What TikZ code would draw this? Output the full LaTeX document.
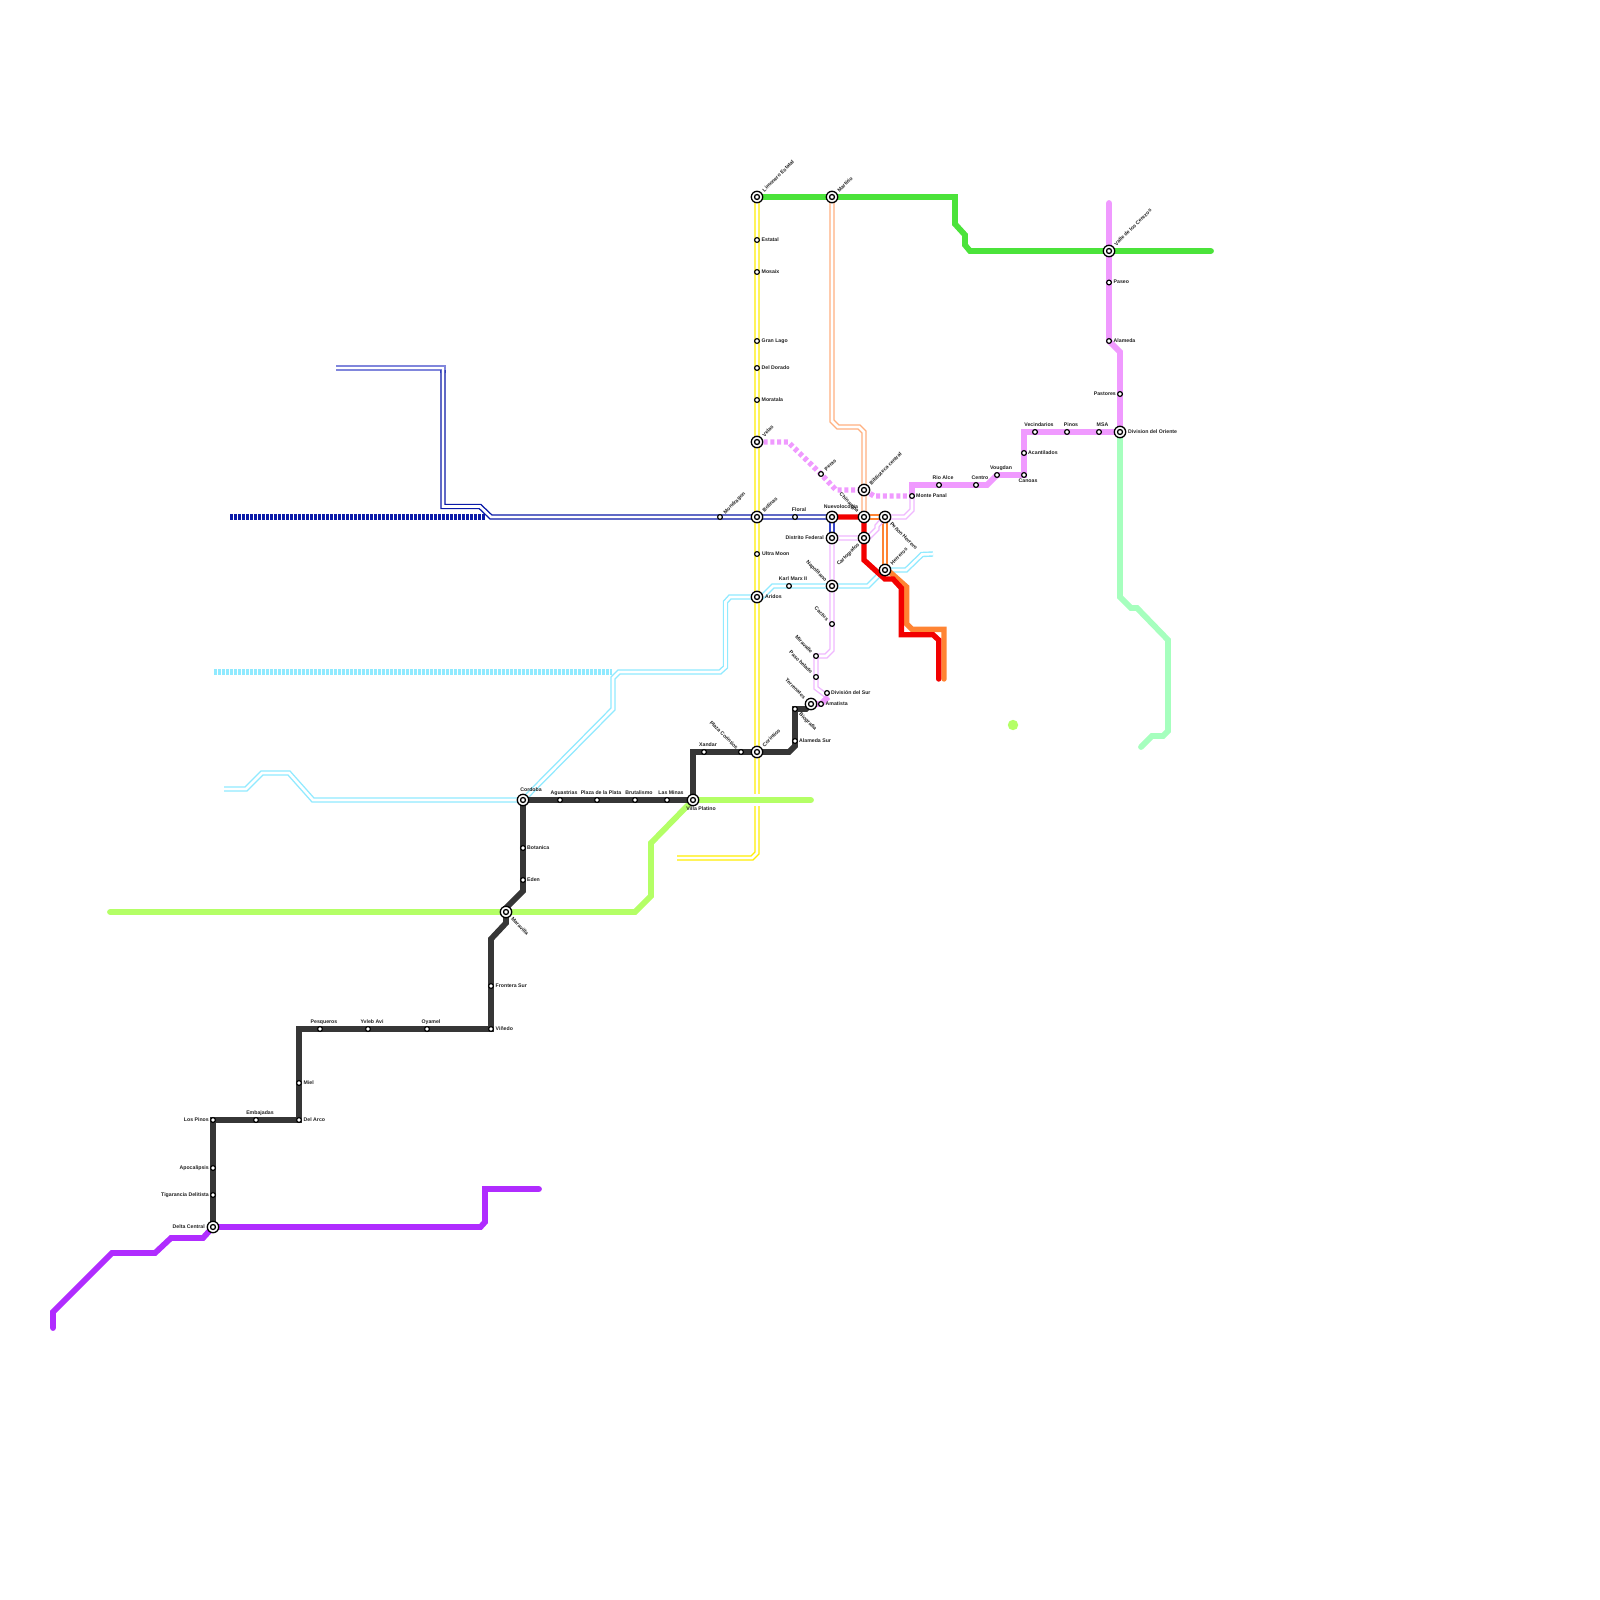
\documentclass[tikz,border=0pt]{standalone}
\usepackage{fontspec}
\setmainfont{Liberation Sans}
\usetikzlibrary{backgrounds}
\definecolor{cblack}{HTML}{363636}
\definecolor{cpurple}{HTML}{B02CFF}
\definecolor{cpink}{HTML}{F09AFF}
\definecolor{clight}{HTML}{F0B8FF}
\definecolor{cmint}{HTML}{A6FFBE}
\definecolor{cgreen}{HTML}{4BE33A}
\definecolor{clime}{HTML}{B4FF66}
\definecolor{corange}{HTML}{FF8433}
\definecolor{cpeach}{HTML}{FFB080}
\definecolor{cred}{HTML}{F20000}
\definecolor{cyell}{HTML}{FFEE00}
\definecolor{ccyan}{HTML}{90EAFF}
\definecolor{cblue}{HTML}{0A1AA8}
\definecolor{cbluemid}{HTML}{3A46C8}
\definecolor{cbluepale}{HTML}{8086DC}
\definecolor{ctext}{HTML}{222222}
\tikzset{
  stn/.style={circle,draw=black,fill=white,line width=1.2pt,minimum size=4.8pt,inner sep=0pt},
  xchg/.style={circle,draw=black,fill=white,line width=1.3pt,minimum size=11.4pt,inner sep=0pt,
    path picture={\draw[black,line width=1.3pt] (path picture bounding box.center) circle (2.5pt);}},
  lbl/.style={text=ctext,inner sep=0pt,text height=5pt,text depth=1.1pt,font=\bfseries\fontsize{5.2}{6}\selectfont},
  lr/.style={lbl,anchor=west},
  ll/.style={lbl,anchor=east},
  lc/.style={lbl,anchor=center},
  lup/.style={lbl,anchor=west,rotate=45},
  ldn/.style={lbl,anchor=west,rotate=-45},
  lul/.style={lbl,anchor=east,rotate=-45},
  ldl/.style={lbl,anchor=east,rotate=45},
  thick line/.style={draw=#1,line width=5.8pt,line cap=round,line join=miter},
  dbl/.style={draw=#1,line width=1.4pt,double=white,double distance=2.6pt,line join=miter},
  dots/.style={draw=#1,line width=5.4pt,dash pattern=on 2.6pt off 1.4pt},
  dotsw/.style={draw=#1,line width=5.4pt,dash pattern=on 4pt off 2.7pt},
}
\begin{document}
\begin{tikzpicture}[x=1pt,y=-1pt]
\useasboundingbox (0,0) rectangle (1600,1600);
% ---- stations
\node[xchg] (lim) at (757,197) {};
\node[xchg] (mar) at (832,197) {};
\node[stn] (est) at (757,240) {};
\node[stn] (mos) at (757,272) {};
\node[stn] (gra) at (757,341) {};
\node[stn] (dor) at (757,368) {};
\node[stn] (mor) at (757,400) {};
\node[xchg] (vel) at (757,442) {};
\node[stn] (per) at (821,474) {};
\node[xchg] (bib) at (864,490) {};
\node[stn] (mon) at (720,517) {};
\node[xchg] (bol) at (757,517) {};
\node[stn] (flo) at (795,517) {};
\node[xchg] (nue) at (832,517) {};
\node[xchg] (chi) at (864,517) {};
\node[xchg] (pen) at (885,517) {};
\node[xchg] (dis) at (832,538) {};
\node[xchg] (car) at (864,538) {};
\node[stn] (ult) at (757,554) {};
\node[xchg] (her) at (885,570) {};
\node[stn] (kar) at (789,586) {};
\node[xchg] (nap) at (832,586) {};
\node[xchg] (ari) at (757,597) {};
\node[stn] (cac) at (832,624) {};
\node[stn] (mir) at (816,656) {};
\node[stn] (pas) at (816,677) {};
\node[stn] (dsu) at (827,693) {};
\node[stn] (ama) at (821,704) {};
\node[xchg] (ter) at (811,704) {};
\node[stn] (bio) at (795,709) {};
\node[stn] (als) at (795,741) {};
\node[xchg] (cor) at (757,752) {};
\node[stn] (plc) at (741,752) {};
\node[stn] (xan) at (704,752) {};
\node[xchg] (vil) at (693,800) {};
\node[stn] (lam) at (667,800) {};
\node[stn] (bru) at (635,800) {};
\node[stn] (ppl) at (597,800) {};
\node[stn] (agu) at (560,800) {};
\node[xchg] (cba) at (523,800) {};
\node[stn] (bot) at (523,848) {};
\node[stn] (ede) at (523,880) {};
\node[xchg] (mvl) at (506,912) {};
\node[stn] (fro) at (491,986) {};
\node[stn] (vin) at (491,1029) {};
\node[stn] (oya) at (427,1029) {};
\node[stn] (yvl) at (368,1029) {};
\node[stn] (pes) at (320,1029) {};
\node[stn] (mie) at (299,1083) {};
\node[stn] (dar) at (299,1120) {};
\node[stn] (emb) at (256,1120) {};
\node[stn] (lpi) at (213,1120) {};
\node[stn] (apo) at (213,1168) {};
\node[stn] (tig) at (213,1195) {};
\node[xchg] (del) at (213,1227) {};
\node[stn] (pan) at (912,496) {};
\node[stn] (rio) at (939,485) {};
\node[stn] (cen) at (976,485) {};
\node[stn] (vou) at (997,475) {};
\node[stn] (can) at (1024,475) {};
\node[stn] (aca) at (1024,453) {};
\node[stn] (vec) at (1035,432) {};
\node[stn] (pin) at (1067,432) {};
\node[stn] (msa) at (1099,432) {};
\node[xchg] (ori) at (1120,432) {};
\node[stn] (ptr) at (1120,394) {};
\node[stn] (ala) at (1109,341) {};
\node[stn] (pso) at (1109,282.5) {};
\node[xchg] (val) at (1109,251) {};
% free ends
\coordinate (yEnd) at (677,858);
\coordinate (gEnd) at (1211,251);
\coordinate (pTop) at (1109,203);
\coordinate (mEnd) at (1141,747);
\coordinate (lEnd) at (110,912);
\coordinate (lEnd2) at (811,800);
\coordinate (uEnd) at (53,1328);
\coordinate (uEnd2) at (539,1189);
\coordinate (rEnd) at (938.7,679);
\coordinate (oEnd) at (944,679);
\coordinate (bEnd) at (336,368);
\coordinate (bFork) at (443,368);
\coordinate (bTurn) at (491,517);
\coordinate (bDots) at (230,517);
\coordinate (bDots2) at (485,517);
\coordinate (cDots) at (214,672);
\coordinate (cDots2) at (612,672);
\coordinate (cW) at (224,789);
\coordinate (cE) at (933,554);
\coordinate (pkS) at (828,697);
% ---- lines
\begin{scope}[on background layer]
\fill[white] (0,0) rectangle (1600,1600);
\path[dbl=cyell] (lim.center) -- (757,853) -- (752,858) -- (yEnd);
\path[dbl=cpeach] (mar.center) -- (832,421) -- (838,427) -- (859,427) -- (864,432) -- (chi.center);
\path[dbl=corange] (chi.center) -- (pen.center) -- (her.center);
% cyan
\path[dots=ccyan] (cDots) -- (cDots2);
\path[dbl=ccyan] (cW) -- (246,789) -- (262,773) -- (289,773) -- (313,800) -- (cba.center);
\path[dbl=ccyan] (cba.center) -- (613,709) -- (613,678) -- (619,672) -- (720,672) -- (725.5,667) -- (725.5,602) -- (730,597) -- (ari.center);
\path[dbl=ccyan] (ari.center) -- (762,597) -- (773,586) -- (kar.center) -- (nap.center) -- (868,586) -- (884,570) -- (her.center) -- (906,570) -- (922,554.5) -- (cE);
% blue
\path[dots=cblue] (bDots) -- (bDots2);
\path[dbl=cbluepale] (bEnd) -- (bFork) -- (443,373);
\path[dbl=cblue] (443,370) -- (443,506.5) -- (480,506.5) -- (bTurn) -- (mon.center) -- (bol.center) -- (flo.center) -- (nue.center);
\path[dbl=cbluemid] (nue.center) -- (dis.center);
% light pink
\path[dbl=clight] (pan.center) -- (912,510) -- (905,517) -- (pen.center);
\path[dbl=clight] (dis.center) -- (car.center) -- (868,538) -- (877,529) -- (877,526) -- (pen.center);
\path[dbl=clight] (dis.center) -- (nap.center) -- (cac.center) -- (832,650) -- (826,656) -- (mir.center) -- (pas.center) -- (816,688) -- (pkS);
\draw[thick line=cpink,line cap=butt] (ter.center) -- (ama.center) -- (pkS);
% dotted pink
\path[dotsw=cpink] (vel.center) -- (788,442) -- (per.center) -- (836,490) -- (bib.center) -- (874,496) -- (pan.center);
% red / orange
\draw[thick line=corange,line width=5.4pt] (her.center) -- (891,573) -- (906.7,587) -- (906.7,624) -- (912,629.3) -- (944,629.3) -- (oEnd);
\draw[thick line=cred,line width=5.4pt] (nue.center) -- (chi.center) -- (864,560) -- (875,570) -- (885,579) -- (893,579) -- (901.3,588) -- (901.3,634.7) -- (933,634.7) -- (938.7,640) -- (rEnd);
% lime
\draw[white,line width=12pt] (740,800) -- (775,800);
\draw[thick line=clime] (lEnd) -- (mvl.center) -- (635,912) -- (651,896) -- (651,843) -- (vil.center) -- (lEnd2);
\fill[clime] (1013,725) circle (5.2pt);
% green
\draw[thick line=cgreen] (lim.center) -- (mar.center) -- (955,197) -- (955,224) -- (965,235) -- (965,245) -- (970,251) -- (val.center) -- (gEnd);
% mint
\draw[thick line=cmint] (ori.center) -- (1120,597) -- (1131,608) -- (1137,608) -- (1168,640) -- (1168,731) -- (1163,736) -- (1152,736) -- (mEnd);
% pink
\draw[thick line=cpink] (pTop) -- (val.center) -- (pso.center) -- (ala.center) -- (1120,352) -- (ptr.center) -- (ori.center) -- (msa.center) -- (pin.center) -- (vec.center) -- (1024,432) -- (aca.center) -- (can.center) -- (vou.center) -- (987,485) -- (cen.center) -- (rio.center) -- (912,485) -- (pan.center);
% purple
\draw[thick line=cpurple] (uEnd) -- (53,1312) -- (112,1253) -- (155,1253) -- (171,1238) -- (203,1238) -- (del.center) -- (480.5,1227) -- (485,1222) -- (485,1189) -- (uEnd2);
% black
\draw[thick line=cblack] (del.center) -- (tig.center) -- (apo.center) -- (lpi.center) -- (emb.center) -- (dar.center) -- (mie.center) -- (299,1029) -- (pes.center) -- (yvl.center) -- (oya.center) -- (vin.center) -- (fro.center) -- (491,939) -- (506,923) -- (mvl.center) -- (506,908) -- (523,891) -- (ede.center) -- (bot.center) -- (cba.center) -- (agu.center) -- (ppl.center) -- (bru.center) -- (lam.center) -- (vil.center) -- (693,752) -- (xan.center) -- (plc.center) -- (cor.center) -- (789,752) -- (795,746) -- (als.center) -- (bio.center) -- (806,709) -- (ter.center);
\end{scope}
% ---- labels
\node[lup] (tLim) at (763,191) {Limonero Estatal};
\node[lup] (tMar) at (838,191) {Martirio};
\node[lr] (tEst) at (761.5,239.5) {Estatal};
\node[lr] (tMos) at (761.5,271.5) {Mosaix};
\node[lr] (tGra) at (761.5,340.5) {Gran Lago};
\node[lr] (tDor) at (761.5,367.5) {Del Dorado};
\node[lr] (tMor) at (761.5,399.5) {Moratala};
\node[lup] (tVel) at (763,436) {Velas};
\node[lup] (tPer) at (825,470) {Peras};
\node[lup] (tBib) at (870,484) {Biblioteca central};
\node[lup] (tMon) at (724,513) {Mondragon};
\node[lup] (tBol) at (763,511) {Bolinas};
\node[lc] (tFlo) at (799,510) {Floral};
\node[lc] (tNue) at (841,507) {Nuevolocopia};
\node[lul] (tChi) at (858.5,511.5) {Chinampa};
\node[ldn] (tPen) at (891,523) {Peñon Herrero};
\node[ll] (tDis) at (824,538) {Distrito Federal};
\node[ldl] (tCar) at (858.5,543.5) {Cartografos};
\node[lr] (tUlt) at (762,553.5) {Ultra Moon};
\node[lup] (tHer) at (891,564) {Herreros};
\node[lc] (tKar) at (793,579) {Karl Marx II};
\node[lul] (tNap) at (826.5,580.5) {Napolitano};
\node[lr] (tAri) at (765,596.5) {Aridos};
\node[lul] (tCac) at (828,620) {Cactus};
\node[lul] (tMir) at (812,652) {Miravalle};
\node[lul] (tPas) at (812,673) {Paso helado};
\node[lr] (tDsu) at (831,692.5) {División del Sur};
\node[lr] (tAma) at (825.5,703.5) {Amatista};
\node[lul] (tTer) at (805,698) {Terrenates};
\node[ldn] (tBio) at (800,713) {Biografia};
\node[lr] (tAls) at (799,740.5) {Alameda Sur};
\node[lup] (tCor) at (763,746) {Corintios};
\node[lul] (tPlc) at (737.5,748.5) {Plaza Corintios};
\node[lc] (tXan) at (708,745) {Xandar};
\node[lc] (tVil) at (701,809) {Villa Platino};
\node[lc] (tLam) at (671,792.7) {Las Minas};
\node[lc] (tBru) at (639,792.7) {Brutalismo};
\node[lc] (tPpl) at (601,792.7) {Plaza de la Plata};
\node[lc] (tAgu) at (564,792.7) {Aguastrias};
\node[lc] (tCba) at (531,790) {Cordoba};
\node[lr] (tBot) at (527,847.5) {Botanica};
\node[lr] (tEde) at (527,879.5) {Eden};
\node[ldn] (tMvl) at (512,918) {Maravilla};
\node[lr] (tFro) at (495.5,985.5) {Frontera Sur};
\node[lr] (tVin) at (495.5,1028.5) {Viñedo};
\node[lc] (tOya) at (431,1022) {Oyamel};
\node[lc] (tYvl) at (372,1022) {Yvleb Avi};
\node[lc] (tPes) at (324,1022) {Pesqueros};
\node[lr] (tMie) at (303.5,1082.5) {Miel};
\node[lr] (tDar) at (303.5,1119.5) {Del Arco};
\node[lc] (tEmb) at (260,1113) {Embajadas};
\node[ll] (tLpi) at (209,1119.5) {Los Pinos};
\node[ll] (tApo) at (209,1167.5) {Apocalipsis};
\node[ll] (tTig) at (209,1194.5) {Tigarancia Delitista};
\node[ll] (tDel) at (205,1226.5) {Delta Central};
\node[lr] (tPan) at (916,495.5) {Monte Panal};
\node[lc] (tRio) at (943,478) {Rio Alce};
\node[lc] (tCen) at (980,478) {Centro};
\node[lc] (tVou) at (1001,468) {Vougdan};
\node[lc] (tCan) at (1028,481) {Canoas};
\node[lr] (tAca) at (1028,452.5) {Acantilados};
\node[lc] (tVec) at (1039,425) {Vecindarios};
\node[lc] (tPin) at (1071,425) {Pinos};
\node[lc] (tMsa) at (1102.5,425) {MSA};
\node[lr] (tOri) at (1128,431.5) {Division del Oriente};
\node[ll] (tPtr) at (1116,393.5) {Pastores};
\node[lr] (tAla) at (1113.5,340.5) {Alameda};
\node[lr] (tPso) at (1113.5,282) {Paseo};
\node[lup] (tVal) at (1115,245) {Valle de los Cerezos};
\end{tikzpicture}
\end{document}
